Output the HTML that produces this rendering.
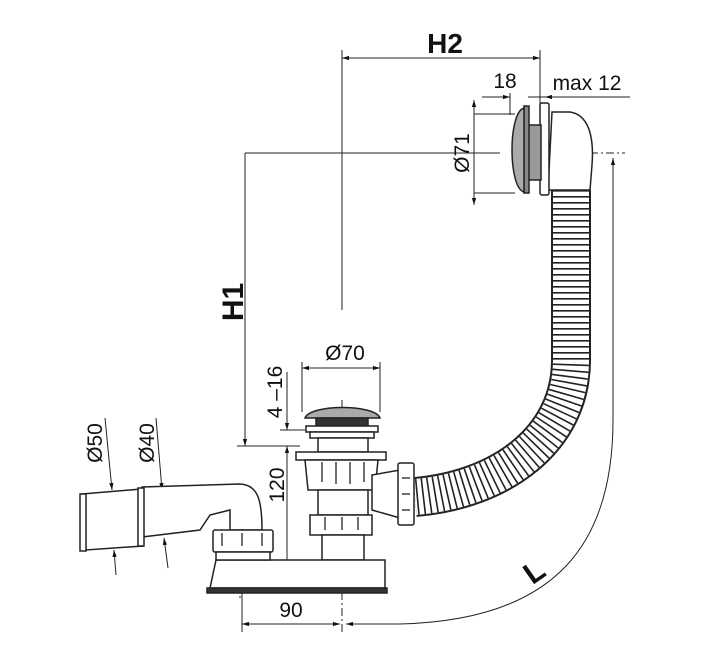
<!DOCTYPE html>
<html><head><meta charset="utf-8"><style>
html,body{margin:0;padding:0;background:#fff;}
svg{display:block;}
text{font-family:"Liberation Sans",sans-serif;fill:#111;}
</style></head><body>
<svg width="711" height="666" viewBox="0 0 711 666" xmlns="http://www.w3.org/2000/svg">
<defs>
<marker id="a" viewBox="0 0 10 10" refX="10" refY="5" markerWidth="7" markerHeight="7" orient="auto-start-reverse"><path d="M0,2 L10,5 L0,8 z" fill="#111"/></marker>
</defs>
<g stroke="#222" stroke-width="1" fill="none">
<line x1="342" y1="58" x2="540" y2="58" marker-start="url(#a)" marker-end="url(#a)"/>
<line x1="342" y1="50" x2="342" y2="310"/>
<line x1="540" y1="50" x2="540" y2="110"/>
<line x1="482" y1="97" x2="510" y2="97" marker-end="url(#a)"/>
<line x1="528" y1="97" x2="548" y2="97"/>
<line x1="545" y1="97" x2="630" y2="97" marker-start="url(#a)"/>
<line x1="510" y1="93" x2="510" y2="115"/>
<line x1="474" y1="100" x2="474" y2="205" marker-start="url(#a)" marker-end="url(#a)"/>
<line x1="474" y1="114" x2="515" y2="114"/>
<line x1="474" y1="193" x2="515" y2="193"/>
<line x1="245" y1="153" x2="245" y2="446" marker-end="url(#a)"/>
<line x1="245" y1="153" x2="500" y2="153"/>
<line x1="237" y1="446" x2="300" y2="446"/>
<line x1="590" y1="153" x2="625" y2="153" stroke-dasharray="8,3,2,3"/>
<line x1="287" y1="372" x2="287" y2="430" marker-end="url(#a)"/>
<line x1="280" y1="430" x2="305" y2="430"/>
<line x1="287" y1="446" x2="287" y2="587" marker-start="url(#a)" marker-end="url(#a)"/>
<line x1="302" y1="368" x2="380" y2="368" marker-start="url(#a)" marker-end="url(#a)"/>
<line x1="302" y1="362" x2="302" y2="412"/>
<line x1="380" y1="362" x2="380" y2="412"/>
<line x1="242" y1="624" x2="340" y2="624" marker-start="url(#a)" marker-end="url(#a)"/>
<line x1="242" y1="505" x2="242" y2="632"/>
<line x1="342" y1="400" x2="342" y2="632" stroke-dasharray="8,3,2,3"/>
<path d="M346,624 L400,624 C560,620 613,540 613,420 L613,158" marker-start="url(#a)" marker-end="url(#a)"/>
<line x1="105" y1="418" x2="112" y2="490" marker-end="url(#a)"/>
<line x1="114" y1="550" x2="116" y2="575" marker-start="url(#a)"/>
<line x1="156" y1="418" x2="162" y2="490" marker-end="url(#a)"/>
<line x1="164" y1="538" x2="168" y2="568" marker-start="url(#a)"/>
<line x1="80" y1="521" x2="240" y2="508" stroke-dasharray="8,3,2,3"/>
<line x1="240" y1="505" x2="240" y2="600" stroke-dasharray="8,3,2,3"/>
</g>
<g fill="none">
<path d="M571,190 L571,360 C571,440 500,490 415,497" stroke="#222" stroke-width="40"/>
<path d="M571,190 L571,360 C571,440 500,490 415,497" stroke="#fff" stroke-width="36"/>
<path d="M571,190 L571,360 C571,440 500,490 415,497" stroke="#222" stroke-width="36" stroke-dasharray="1.6,4.4"/>
</g>
<g stroke="#222" stroke-width="1.5" fill="#fff">
<path d="M552,112 L570,112 C590,115 594,140 592,165 L590,190 L548,190 Z"/>
<rect x="540" y="103" width="9" height="92" rx="2"/>
<rect x="528" y="125" width="13" height="55" fill="#999"/>
<rect x="524" y="106" width="5" height="87" fill="#888"/>
<path d="M524,108 C508,112 508,188 524,192 Z" fill="#aaa"/>
<path d="M305,418 C310,404 375,404 380,418 Z" fill="#aaa"/>
<rect x="316" y="418" width="52" height="8" fill="#333"/>
<rect x="306" y="426" width="72" height="6"/>
<rect x="310" y="432" width="64" height="6"/>
<rect x="318" y="438" width="50" height="14"/>
<rect x="296" y="452" width="90" height="8"/>
<path d="M305,460 L378,460 L375,490 L308,490 Z"/>
<rect x="318" y="490" width="50" height="25"/>
<rect x="310" y="515" width="62" height="20"/>
<rect x="322" y="535" width="42" height="25"/>
<path d="M216,560 L385,560 L385,588 L210,588 Z"/>
<rect x="207" y="588" width="180" height="5" fill="#333"/>
<path d="M372,475 L400,470 L400,518 L372,510 Z"/>
<rect x="398" y="463" width="16" height="62" rx="2"/>
<path d="M142,487 L240,484 C258,485 262,500 262,530 L230,530 L230,510 L210,515 L200,530 L142,537 Z"/>
<path d="M82,494 L142,489 L143,546 L86,550 Z"/>
<rect x="138" y="488" width="6" height="58"/>
<rect x="80" y="494" width="6" height="57"/>
<rect x="213" y="530" width="60" height="22" rx="2"/>
<rect x="216" y="552" width="54" height="8"/>
</g>
<g stroke="#222" stroke-width="1.3">
<line x1="322" y1="462" x2="322" y2="482"/><line x1="336" y1="462" x2="336" y2="484"/><line x1="350" y1="462" x2="350" y2="484"/><line x1="364" y1="462" x2="364" y2="482"/>
<line x1="325" y1="517" x2="325" y2="530"/><line x1="342" y1="517" x2="342" y2="530"/><line x1="358" y1="517" x2="358" y2="530"/>
<line x1="222" y1="533" x2="222" y2="546"/><line x1="242" y1="533" x2="242" y2="546"/><line x1="262" y1="533" x2="262" y2="546"/>
<line x1="402" y1="478" x2="410" y2="478"/><line x1="402" y1="494" x2="410" y2="494"/><line x1="402" y1="510" x2="410" y2="510"/>
</g>
<text x="445" y="53" font-size="28" font-weight="bold" text-anchor="middle">H2</text>
<text x="505" y="88" font-size="21" text-anchor="middle">18</text>
<text x="587" y="90" font-size="21" text-anchor="middle">max 12</text>
<text transform="translate(469,153) rotate(-90)" font-size="21" text-anchor="middle">Ø71</text>
<text transform="translate(243,302) rotate(-90)" font-size="30" font-weight="bold" text-anchor="middle">H1</text>
<text transform="translate(282,392) rotate(-90)" font-size="21" text-anchor="middle">4 –16</text>
<text x="345" y="360" font-size="21" text-anchor="middle">Ø70</text>
<text transform="translate(284,485) rotate(-90)" font-size="21" text-anchor="middle">120</text>
<text transform="translate(102,443) rotate(-90)" font-size="21" text-anchor="middle">Ø50</text>
<text transform="translate(154,443) rotate(-90)" font-size="21" text-anchor="middle">Ø40</text>
<text x="291" y="617" font-size="21" text-anchor="middle">90</text>
<text transform="translate(540,580) rotate(-35)" font-size="30" font-weight="bold" text-anchor="middle">L</text>
</svg>
</body></html>
